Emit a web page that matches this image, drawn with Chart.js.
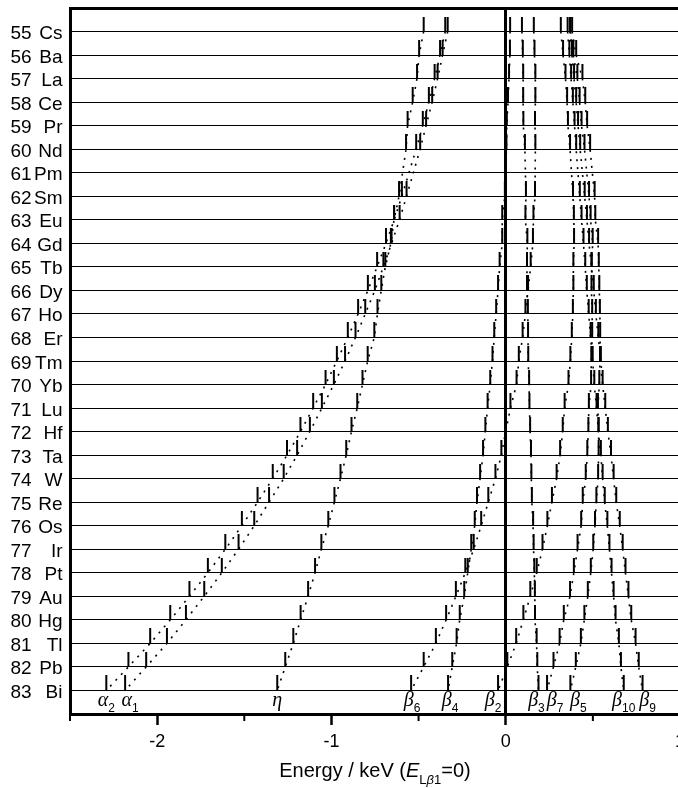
<!DOCTYPE html>
<html>
<head>
<meta charset="utf-8">
<script src="https://cdn.jsdelivr.net/npm/chart.js@4.4.0/dist/chart.umd.min.js"></script>
<style>
  html, body { margin: 0; padding: 0; background: #fff; overflow: hidden; }
  #wrap { position: relative; width: 678px; height: 788px; overflow: hidden; }
  #chart { position: absolute; left: 0; top: 0; }
  #xtitle { position: absolute; left: 70px; width: 610px; top: 760px; text-align: center;
            font: 20px "Liberation Sans", Arial, sans-serif; line-height: 20px; color: #000; white-space: nowrap; }
  #xtitle sub { font-size: 13px; vertical-align: baseline; position: relative; top: 7px; }
</style>
</head>
<body>
<div id="wrap">
  <canvas id="chart" width="710" height="788"></canvas>
  <div id="xtitle">Energy / keV (<i>E</i><sub>L<i>β</i>1</sub>=0)</div>
</div>
<script>
// ===== data: L-line energies relative to L beta1 (keV), Pm has no lines =====
const zNums = [55, 56, 57, 58, 59, 60, 61, 62, 63, 64, 65, 66, 67, 68, 69,
               70, 71, 72, 73, 74, 75, 76, 77, 78, 79, 80, 81, 82, 83];
const symbols = ['Cs', 'Ba', 'La', 'Ce', 'Pr', 'Nd', 'Pm', 'Sm', 'Eu', 'Gd', 'Tb', 'Dy', 'Ho', 'Er', 'Tm',
                 'Yb', 'Lu', 'Hf', 'Ta', 'W', 'Re', 'Os', 'Ir', 'Pt', 'Au', 'Hg', 'Tl', 'Pb', 'Bi'];

const alpha2 = [-0.347, -0.377, -0.408, -0.441, -0.476, -0.514, null, -0.596, -0.640, -0.687,
                -0.738, -0.791, -0.847, -0.906, -0.969, -1.034, -1.105, -1.178, -1.255, -1.337,
                -1.424, -1.514, -1.609, -1.709, -1.815, -1.925, -2.040, -2.165, -2.292];
const alpha1 = [-0.333, -0.362, -0.391, -0.422, -0.457, -0.491, null, -0.569, -0.609, -0.655,
                -0.702, -0.751, -0.806, -0.862, -0.922, -0.986, -1.055, -1.124, -1.197, -1.274,
                -1.358, -1.443, -1.533, -1.629, -1.730, -1.835, -1.944, -2.063, -2.184];
const eta    = [-0.471, -0.497, -0.509, -0.534, -0.563, -0.572, null, -0.612, -0.641, -0.659,
                -0.691, -0.714, -0.736, -0.754, -0.792, -0.822, -0.852, -0.885, -0.915, -0.948,
                -0.983, -1.018, -1.058, -1.094, -1.134, -1.177, -1.219, -1.265, -1.311];
const beta6  = [0.161, 0.165, 0.170, 0.170, 0.168, 0.170, null, 0.168, 0.159, 0.156,
                0.143, 0.128, 0.113, 0.097, 0.075, 0.062, 0.027, 0.000, -0.025, -0.059,
                -0.100, -0.141, -0.184, -0.232, -0.286, -0.342, -0.401, -0.471, -0.543];
const beta4  = [0.025, 0.024, 0.019, 0.013, 0.006, 0.004, null, -0.005, -0.020, -0.020,
                -0.035, -0.044, -0.055, -0.066, -0.076, -0.089, -0.104, -0.117, -0.130, -0.147,
                -0.165, -0.178, -0.198, -0.218, -0.238, -0.264, -0.282, -0.307, -0.331];
const beta2  = [0.316, 0.329, 0.343, 0.352, 0.357, 0.369, null, 0.386, 0.391, 0.392,
                0.388, 0.388, 0.385, 0.379, 0.371, 0.360, 0.338, 0.327, 0.312, 0.292,
                0.265, 0.239, 0.211, 0.178, 0.141, 0.101, 0.060, 0.009, -0.044];
const beta3  = [0.093, 0.098, 0.100, 0.100, 0.101, 0.110, null, 0.116, 0.113, 0.124,
                0.122, 0.122, 0.127, 0.128, 0.129, 0.134, 0.136, 0.140, 0.145, 0.147,
                0.150, 0.157, 0.160, 0.164, 0.167, 0.168, 0.177, 0.181, 0.188];
const beta7  = [0.371, 0.388, 0.411, 0.424, 0.435, 0.452, null, 0.478, 0.487, 0.499,
                0.493, 0.492, 0.496, 0.496, 0.491, 0.490, 0.477, 0.474, 0.468, 0.459,
                0.442, 0.433, 0.412, 0.391, 0.369, 0.333, 0.309, 0.274, 0.237];
const beta5  = [0.381, 0.404, 0.440, 0.456, 0.467, 0.484, null, 0.510, 0.514, 0.530,
                0.534, 0.537, 0.540, 0.542, 0.541, 0.537, 0.529, 0.533, 0.533, 0.530,
                0.520, 0.512, 0.502, 0.488, 0.471, 0.451, 0.431, 0.402, 0.371];
const beta10 = [0.355, 0.365, 0.375, 0.385, 0.395, 0.404, null, 0.425, 0.435, 0.446,
                0.456, 0.465, 0.476, 0.487, 0.499, 0.508, 0.521, 0.532, 0.546, 0.556,
                0.568, 0.583, 0.595, 0.607, 0.619, 0.630, 0.649, 0.661, 0.677];
const beta9  = [0.369, 0.380, 0.392, 0.404, 0.415, 0.427, null, 0.453, 0.466, 0.478,
                0.492, 0.505, 0.517, 0.531, 0.546, 0.556, 0.571, 0.586, 0.604, 0.619,
                0.634, 0.654, 0.671, 0.687, 0.704, 0.720, 0.745, 0.763, 0.785];

const lineSymbols = ['α', 'α', 'η', 'β', 'β', 'β', 'β', 'β', 'β', 'β', 'β'];
const lineSubs    = ['2', '1', '', '6', '4', '2', '3', '7', '5', '10', '9'];
const lineValues  = [alpha2, alpha1, eta, beta6, beta4, beta2, beta3, beta7, beta5, beta10, beta9];

const xTicks = [-2.5, -2, -1.5, -1, -0.5, 0, 0.5, 1];
const yMin = 54, yMax = 84;

// label nudges (px) so the names under Bi don't collide
const labelShift = [0, 5, 0, 1, 2, -5, -2, 8, 8, 0, 5];

const FONT = '"Liberation Sans", Arial, sans-serif';

// little vertical tick that sits on top of each point
const tickImg = document.createElement('canvas');
tickImg.width = 4;
tickImg.height = 30;
const tctx = tickImg.getContext('2d');
tctx.fillStyle = '#000';
tctx.fillRect(1, 0, 2, 15);

const datasets = lineValues.map((vals, i) => ({
    label: lineSymbols[i] + lineSubs[i],
    data: zNums.map((z, k) => ({ x: vals[k], y: z })),
    showLine: true,
    spanGaps: true,
    borderColor: '#000',
    borderWidth: 1.6,
    borderDash: [2, 6],
    pointStyle: tickImg,
    pointRadius: 2,
    pointHoverRadius: 2,
}));

const labelsPlugin = {
    id: 'labels',
    afterDraw(chart) {
        const { ctx, chartArea } = chart;
        const x = chart.scales.x, y = chart.scales.y;
        ctx.save();
        ctx.fillStyle = '#000';

        // element names on the left
        ctx.font = '19px ' + FONT;
        ctx.textBaseline = 'alphabetic';
        zNums.forEach((z, k) => {
            const py = y.getPixelForValue(z) + 7.5;
            ctx.textAlign = 'left';
            ctx.fillText(String(z), 10.5, py);
            ctx.textAlign = 'right';
            ctx.fillText(symbols[k], 62.5, py);
        });

        // minor ticks on the energy axis
        ctx.strokeStyle = '#000';
        ctx.lineWidth = 2;
        xTicks.filter(v => !Number.isInteger(v)).forEach(v => {
            const px = x.getPixelForValue(v);
            ctx.beginPath();
            ctx.moveTo(px, chartArea.bottom);
            ctx.lineTo(px, chartArea.bottom + 7);
            ctx.stroke();
        });

        // line names under the last element
        const last = zNums.length - 1;
        ctx.textAlign = 'left';
        lineValues.forEach((vals, i) => {
            const px = x.getPixelForValue(vals[last]) + labelShift[i];
            ctx.font = 'italic 20px "Liberation Serif", "DejaVu Serif", serif';
            const w1 = ctx.measureText(lineSymbols[i]).width;
            ctx.font = '12px ' + FONT;
            const w2 = ctx.measureText(lineSubs[i]).width;
            const left = px - (w1 + w2) / 2;
            ctx.font = 'italic 20px "Liberation Serif", "DejaVu Serif", serif';
            ctx.fillText(lineSymbols[i], left, chartArea.bottom - 8);
            ctx.font = '12px ' + FONT;
            ctx.fillText(lineSubs[i], left + w1, chartArea.bottom - 2);
        });
        ctx.restore();
    }
};

new Chart(document.getElementById('chart'), {
    type: 'scatter',
    data: { datasets },
    options: {
        responsive: false,
        devicePixelRatio: 1,
        animation: false,
        layout: { padding: { top: 8, right: 30, left: 0, bottom: 0 } },
        plugins: {
            legend: { display: false },
            tooltip: { enabled: false },
        },
        scales: {
            x: {
                type: 'linear',
                min: -2.5,
                max: 1,
                afterBuildTicks: s => { s.ticks = xTicks.map(v => ({ value: v })); },
                afterFit: s => { s.height = 74; },
                ticks: {
                    autoSkip: false,
                    maxRotation: 0,
                    padding: 6,
                    color: '#000',
                    font: { size: 18, family: FONT },
                    callback: v => Number.isInteger(v) ? String(v) : '',
                },
                grid: {
                    color: c => c.tick && c.tick.value === 0 ? '#000' : 'rgba(0,0,0,0)',
                    lineWidth: c => c.tick && c.tick.value === 0 ? 3 : 1,
                    tickColor: c => c.tick && Number.isInteger(c.tick.value) ? '#000' : 'rgba(0,0,0,0)',
                    tickWidth: 2.5,
                    tickLength: 11,
                },
                border: { display: true, color: '#000', width: 3 },
            },
            y: {
                type: 'linear',
                reverse: true,
                min: yMin,
                max: yMax,
                afterBuildTicks: s => { s.ticks = [yMin, ...zNums, yMax].map(v => ({ value: v })); },
                afterFit: s => { s.width = 70; },
                ticks: { display: false },
                grid: {
                    color: '#000',
                    lineWidth: c => c.tick && c.tick.value === yMin ? 3 : 1,
                    drawTicks: false,
                },
                border: { display: true, color: '#000', width: 3 },
            }
        }
    },
    plugins: [labelsPlugin]
});
</script>
</body>
</html>
